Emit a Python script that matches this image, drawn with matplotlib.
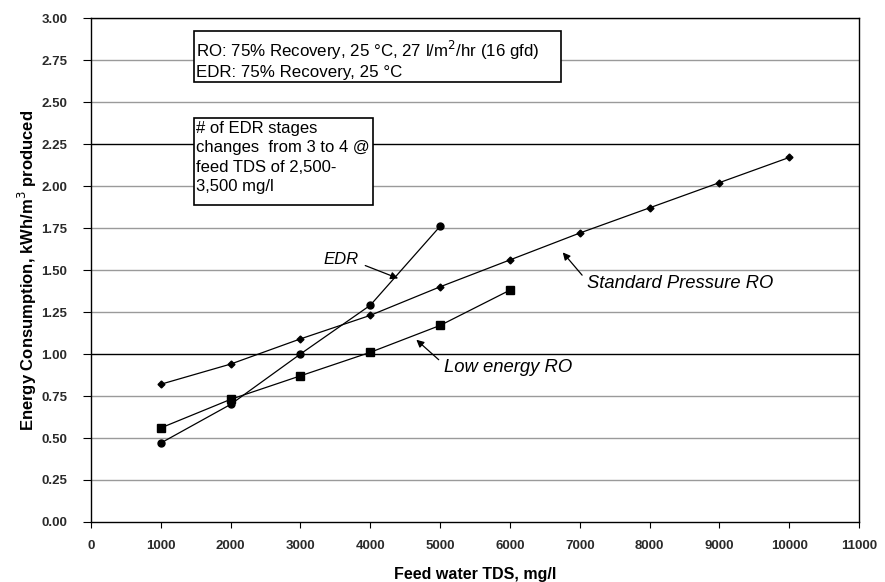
import matplotlib
matplotlib.use("Agg")
import matplotlib.pyplot as plt
from matplotlib.patches import Rectangle

plt.rcParams['font.family'] = ['Liberation Sans', 'DejaVu Sans']

# feed TDS (mg/l) and energy (kWh/m3)
tds_std = [1000, 2000, 3000, 4000, 5000, 6000, 7000, 8000, 9000, 10000]
std_ro = [0.82, 0.94, 1.09, 1.23, 1.40, 1.56, 1.72, 1.87, 2.02, 2.17]

tds_low = [1000, 2000, 3000, 4000, 5000, 6000]
low_ro = [0.56, 0.73, 0.87, 1.01, 1.17, 1.38]

tds_edr = [1000, 2000, 3000, 4000, 5000]
edr = [0.47, 0.70, 1.00, 1.29, 1.76]

x_ticks = list(range(0, 11001, 1000))
y_ticks = [0.0, 0.25, 0.5, 0.75, 1.0, 1.25, 1.5, 1.75, 2.0, 2.25, 2.5, 2.75, 3.0]
dark_lines = [1.0, 2.25]

fig = plt.figure(figsize=(8.85, 5.82), dpi=100)
ax = fig.add_axes([0.1028, 0.1031, 0.8678, 0.8659])

for y in y_ticks[1:]:
    c = 'black' if y in dark_lines else '#9a9a9a'
    ax.axhline(y, color=c, lw=1.0, zorder=1)

ax.plot(tds_std, std_ro, color='black', lw=0.9, marker='D', ms=3.5, zorder=3)
ax.plot(tds_low, low_ro, color='black', lw=0.9, marker='s', ms=6, zorder=3)
ax.plot(tds_edr, edr, color='black', lw=0.9, marker='o', ms=5, zorder=3)

ax.set_xlim(0, 11000)
ax.set_ylim(0, 3.0)
ax.set_xticks(x_ticks)
ax.set_yticks(y_ticks)
ax.set_yticklabels([f"{v:.2f}" for v in y_ticks])
ax.tick_params(axis='both', labelsize=9.5, direction='out', width=0.8, colors='black')
for lbl in ax.get_xticklabels() + ax.get_yticklabels():
    lbl.set_fontweight('bold')
    lbl.set_color('#2a2a2a')
ax.tick_params(axis='x', length=4, pad=9)
ax.tick_params(axis='y', length=6, pad=11)
for s in ax.spines.values():
    s.set_color('black')
    s.set_linewidth(1.0)

ax.set_xlabel('Feed water TDS, mg/l', fontsize=11.5, fontweight='bold', labelpad=11)
ax.set_ylabel('Energy Consumption, kWh/m$^3$ produced', fontsize=12, fontweight='bold', labelpad=2)

arrow = dict(arrowstyle='-|>', color='black', lw=0.9, mutation_scale=11)
ax.annotate('EDR', xy=(4400, 1.45), xytext=(3330, 1.56), fontsize=12, style='italic',
            ha='left', va='center', arrowprops=dict(arrow, shrinkA=3, shrinkB=0,
            relpos=(1.0, 0.3)))
ax.annotate('Standard Pressure RO', xy=(6757, 1.605), xytext=(7100, 1.417), fontsize=13.2,
            style='italic', ha='left', va='center',
            arrowprops=dict(arrow, shrinkA=2, shrinkB=0, relpos=(0.0, 0.7)))
ax.annotate('Low energy RO', xy=(4660, 1.085), xytext=(5050, 0.92), fontsize=13.3,
            style='italic', ha='left', va='center',
            arrowprops=dict(arrow, shrinkA=2, shrinkB=0, relpos=(0.0, 0.7)))

# note boxes
ax.add_patch(Rectangle((1471, 2.621), 6727 - 1471, 2.924 - 2.621, fc='white', ec='black', lw=1.2, zorder=5))
ax.text(1505, 2.875, 'RO: 75% Recovery, 25 \u00b0C, 27 l/m$^2$/hr (16 gfd)\nEDR: 75% Recovery, 25 \u00b0C',
        fontsize=12.2, ha='left', va='top', linespacing=1.2, zorder=6)
ax.add_patch(Rectangle((1471, 1.887), 4039 - 1471, 2.405 - 1.887, fc='white', ec='black', lw=1.2, zorder=5))
ax.text(1505, 2.39, '# of EDR stages\nchanges  from 3 to 4 @\nfeed TDS of 2,500-\n3,500 mg/l',
        fontsize=12, ha='left', va='top', linespacing=1.38, zorder=6)

fig.savefig('out.png', dpi=100)
